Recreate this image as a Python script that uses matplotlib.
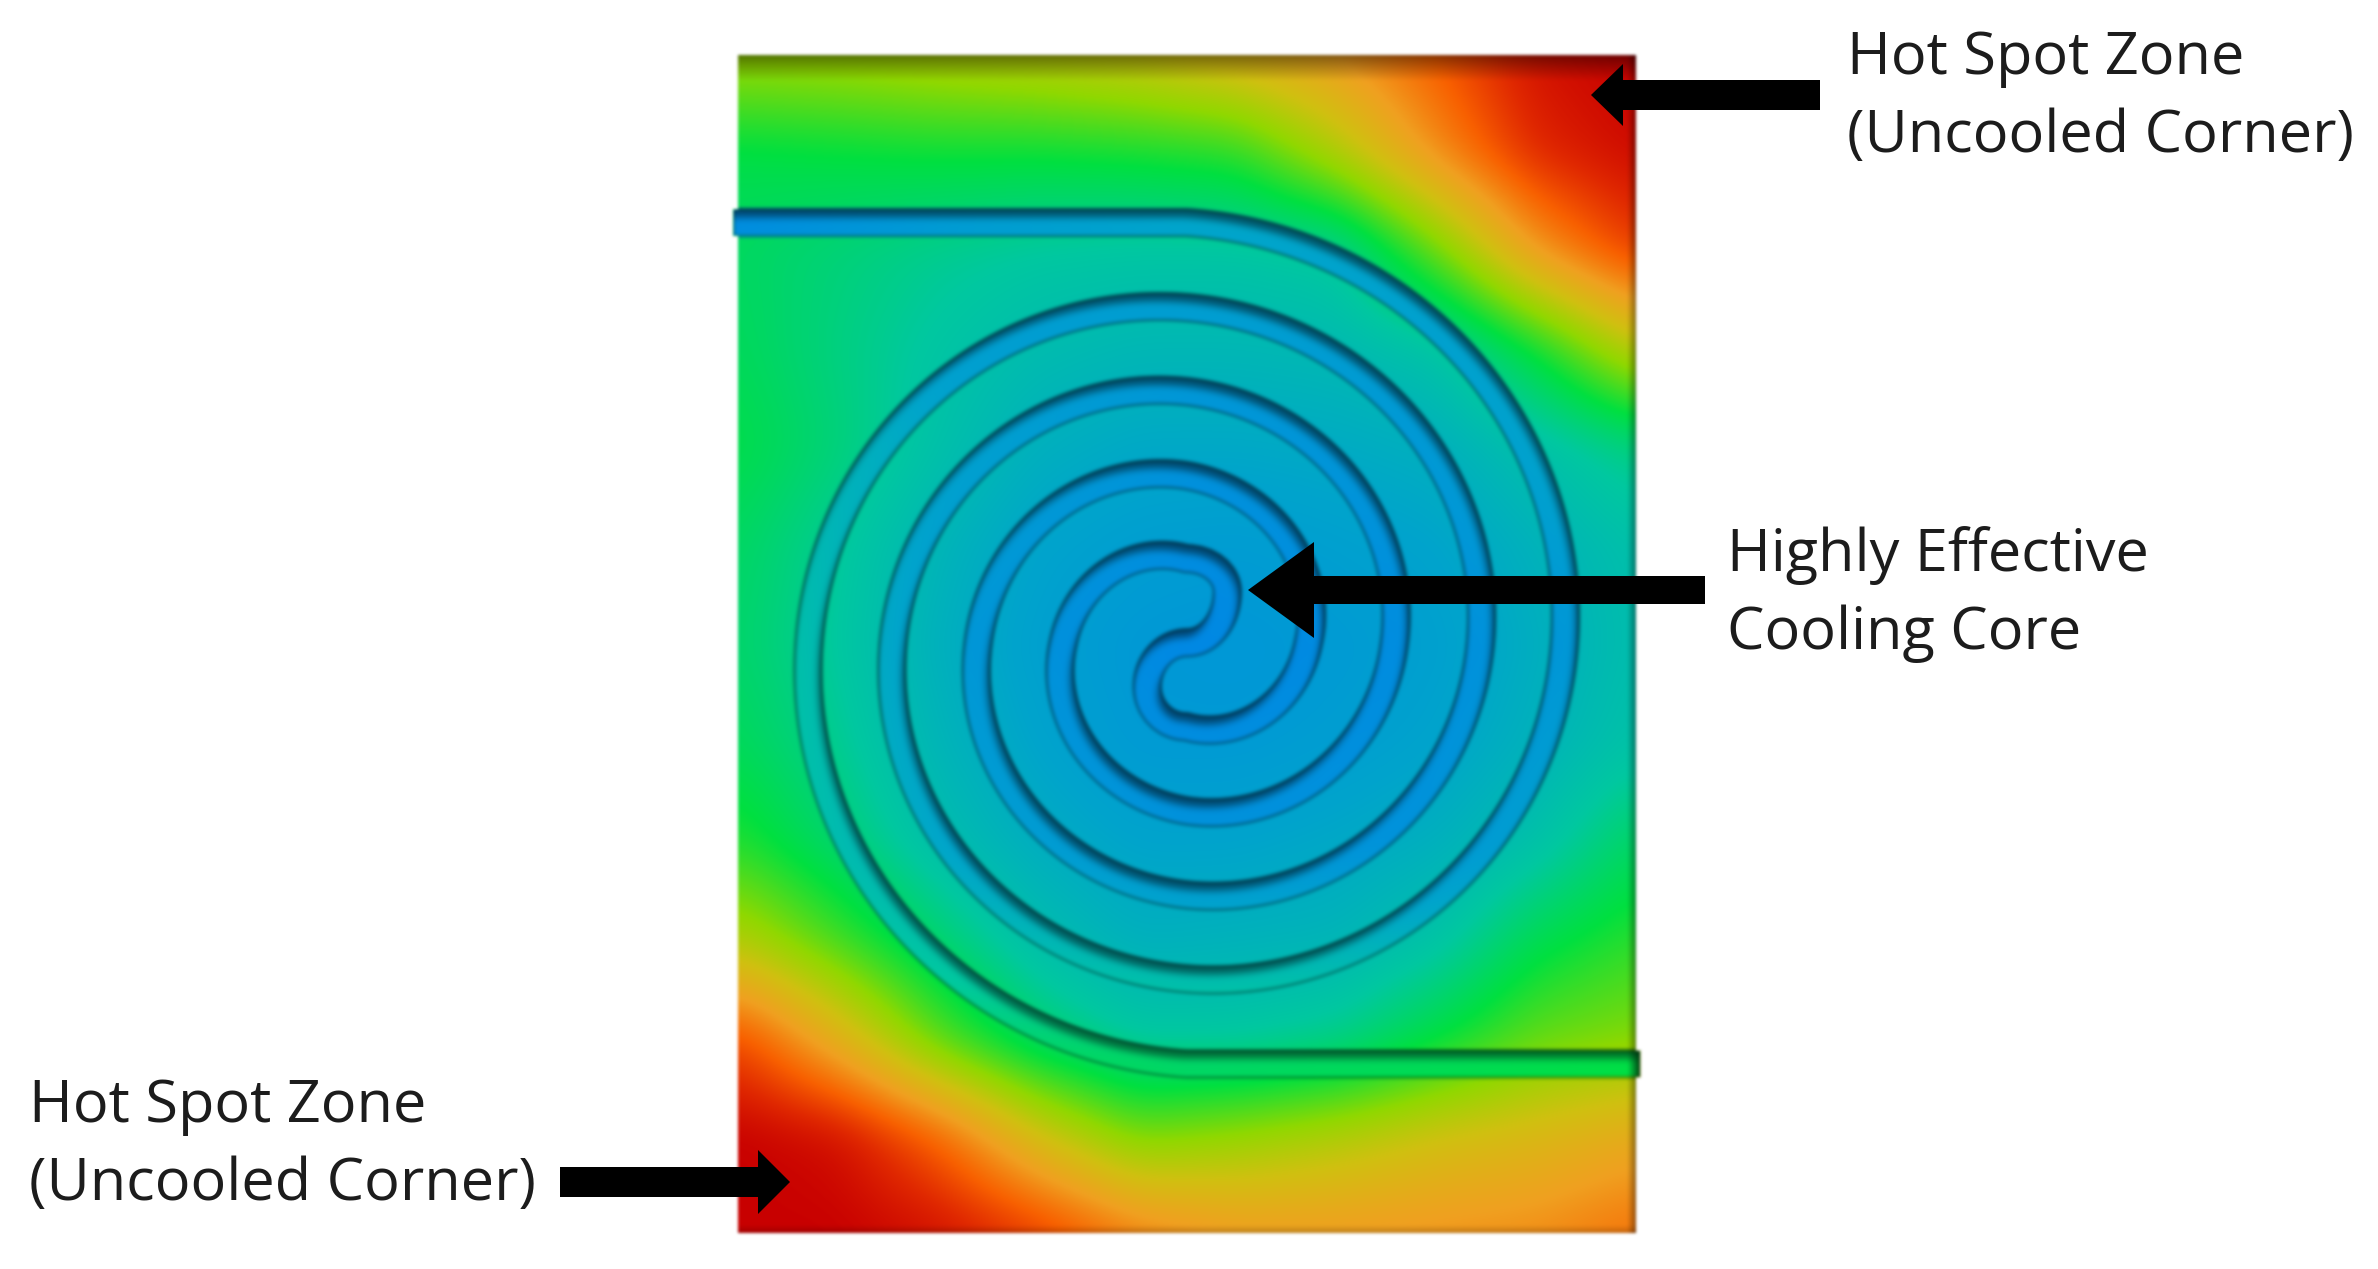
import numpy as np
import matplotlib
matplotlib.use("Agg")
import matplotlib.pyplot as plt
from matplotlib.backends.backend_agg import FigureCanvasAgg
from matplotlib.colors import LinearSegmentedColormap
from matplotlib.figure import Figure
from matplotlib.patches import PathPatch
from matplotlib.path import Path

W, H = 2378, 1269
PANEL = (738, 1636, 55, 1233)

# Temperature, 0 = coldest, 1 = hottest
temp_cols = [738, 838, 939, 1037, 1137, 1238, 1338, 1438, 1536, 1636]
temp_rows = [55, 152, 250, 349, 447, 546, 645, 743, 842, 940, 1039, 1137, 1233]
temp_grid = [
    [.57, .58, .60, .62, .65, .70, .76, .86, .97, 1.0],
    [.41, .42, .43, .43, .44, .46, .60, .78, .93, .98],
    [.38, .35, .32, .30, .29, .29, .31, .52, .76, .90],
    [.39, .34, .29, .25, .23, .23, .24, .28, .43, .62],
    [.41, .35, .27, .20, .17, .17, .18, .20, .27, .34],
    [.38, .31, .22, .15, .12, .11, .13, .15, .21, .27],
    [.37, .30, .20, .13, .09, .08, .10, .13, .19, .26],
    [.39, .32, .22, .15, .10, .10, .12, .15, .21, .28],
    [.45, .36, .26, .19, .15, .15, .17, .20, .27, .38],
    [.60, .48, .36, .26, .20, .21, .22, .28, .40, .46],
    [.88, .70, .50, .37, .30, .30, .33, .42, .51, .54],
    [1.0, .97, .84, .66, .53, .56, .60, .65, .68, .72],
    [1.0, 1.0, .97, .90, .80, .76, .76, .77, .78, .82],
]

# Temperature inside the coolant tube
tube_cols = [738, 963, 1187, 1412, 1636]
tube_rows = [55, 221, 440, 645, 849, 1066, 1233]
tube_grid = [
    [.02, .11, .16, .17, .20],
    [.02, .11, .16, .17, .20],
    [.28, .14, .06, .09, .20],
    [.33, .08, .00, .03, .10],
    [.34, .14, .06, .06, .20],
    [.42, .40, .38, .40, .42],
    [.42, .40, .38, .40, .42],
]

temp_levels = [0, .15, .30, .42, .55, .65, .75, .85, .93, 1]
temp_colors = ["#0088e4", "#00a4cc", "#00c8a0", "#00e040", "#90d800",
               "#d0c010", "#f0a020", "#f86000", "#e02800", "#c80000"]

# Spiral centre and the radius of each arm at every quarter turn
centre_x, centre_y = 1186, 643
arm_in_radius = [420, 378, 336, 293, 251, 208, 168, 123, 84]
arm_out_radius = [84, 122, 167, 208, 252, 294, 335, 377, 421]
# S bend joining the two arms at the middle
bend_x = [1186, 1227, 1187, 1147, 1186]
bend_y = [559, 592, 643, 687, 727]
inlet_x = 733
outlet_x = 1640
tube_px = 27

# Arrows: tip, head base, head half height, shaft half height, shaft end
arrows = [
    (1591, 95, 1623, 31, 15, 1820),
    (1248, 590, 1314, 48, 14, 1705),
    (790, 1182, 758, 32, 15, 560),
]

labels = [
    (1847, 59, "Hot Spot Zone"),
    (1847, 137, "(Uncooled Corner)"),
    (1727, 556, "Highly Effective"),
    (1727, 634, "Cooling Core"),
    (29, 1107, "Hot Spot Zone"),
    (29, 1185, "(Uncooled Corner)"),
]


def box_blur(a, r):
    # three box passes along both axes, close enough to a gaussian
    for axis in (0, 1):
        for _ in range(3):
            pad = [(0, 0), (0, 0)]
            pad[axis] = (r + 1, r)
            c = np.cumsum(np.pad(a, pad, mode="edge"), axis=axis)
            a = (np.take(c, range(2 * r + 1, c.shape[axis]), axis=axis)
                 - np.take(c, range(0, c.shape[axis] - 2 * r - 1), axis=axis)) / (2 * r + 1)
    return a


def upsample(grid, cols, rows, xs, ys):
    grid = np.array(grid)
    by_row = np.array([np.interp(ys, rows, grid[:, j]) for j in range(len(cols))]).T
    return np.array([np.interp(xs, cols, r) for r in by_row])


def arm(radii, start_deg, step_deg):
    # angle measured clockwise from the top of the spiral
    quarters = np.arange(len(radii))
    t = np.linspace(0, len(radii) - 1, 720)
    r = np.interp(t, quarters, radii)
    a = np.radians(start_deg + step_deg * t)
    return list(zip(centre_x + r * np.sin(a), centre_y - r * np.cos(a)))


def tube_path():
    k = 0.5523
    verts = [(inlet_x, centre_y - arm_in_radius[0])] + arm(arm_in_radius, 0, 90)
    codes = [Path.MOVETO] + [Path.LINETO] * 720
    for i in range(len(bend_x) - 1):
        x0, y0, x1, y1 = bend_x[i], bend_y[i], bend_x[i + 1], bend_y[i + 1]
        if i % 2 == 0:
            c1, c2 = (x0 + k * (x1 - x0), y0), (x1, y1 + k * (y0 - y1))
        else:
            c1, c2 = (x0, y0 + k * (y1 - y0)), (x1 + k * (x0 - x1), y1)
        verts += [c1, c2, (x1, y1)]
        codes += [Path.CURVE4] * 3
    verts += arm(arm_out_radius, 180, -90)
    codes += [Path.LINETO] * 720
    verts.append((outlet_x, centre_y + arm_out_radius[-1]))
    codes.append(Path.LINETO)
    return Path(verts, codes)


# Tube mask, drawn by matplotlib on a scratch canvas
x0, x1, y0, y1 = 728, 1648, 45, 1243
nx, ny = x1 - x0, y1 - y0
scratch = Figure(figsize=((nx + 0.5) / 100, (ny + 0.5) / 100), dpi=100)
canvas = FigureCanvasAgg(scratch)
sax = scratch.add_axes([0, 0, 1, 1])
sax.set_xlim(x0, x1)
sax.set_ylim(y1, y0)
sax.axis("off")
sax.add_patch(PathPatch(tube_path(), fill=False, lw=tube_px * 72 / 100, color="k", capstyle="butt"))
canvas.draw()
mask = 1 - np.asarray(canvas.buffer_rgba())[:, :, 0] / 255.0

xs = np.arange(x0, x1) + 0.5
ys = np.arange(y0, y1) + 0.5
temp = box_blur(upsample(temp_grid, temp_cols, temp_rows, xs, ys), 20)
cool = box_blur(upsample(tube_grid, tube_cols, tube_rows, xs, ys), 14)

soft = box_blur(mask, 1)
field = temp * (1 - soft) + cool * soft
cmap = LinearSegmentedColormap.from_list("temp", list(zip(temp_levels, temp_colors)))
rgb = cmap(np.clip(field, 0, 1))[:, :, :3]

# Tube relief: a wide shadow under the upper edge, a thin line on both edges
shifted = np.roll(np.roll(box_blur(mask, 3), 8, axis=0), -3, axis=1)
shadow = np.clip(soft * (1 - shifted), 0, 1)
edge = np.clip(4 * soft * (1 - soft), 0, 1)
shade = 1 - 0.5 * shadow - 0.26 * edge

# Rims of the panel go darker
rim = np.ones_like(shade)
rim *= np.clip(0.55 + 0.45 * (ys - PANEL[2]) / 26, 0.55, 1)[:, None]
rim *= np.clip(0.62 + 0.38 * (PANEL[1] - xs) / 9, 0.62, 1)[None, :]
rim *= np.clip(0.8 + 0.2 * (PANEL[3] - ys) / 8, 0.8, 1)[:, None]
rgb = np.dstack([box_blur(rgb[:, :, c] * shade * rim, 1) for c in range(3)])

inside = ((xs >= PANEL[0]) & (xs <= PANEL[1]))[None, :] & ((ys >= PANEL[2]) & (ys <= PANEL[3]))[:, None]
alpha = np.clip(box_blur(np.maximum(inside.astype(float), mask), 1), 0, 1)
rgba = np.dstack([np.clip(rgb, 0, 1), alpha])

fig = plt.figure(figsize=(W / 100, H / 100), dpi=100)
ax = fig.add_axes([0, 0, 1, 1])
ax.imshow(rgba, extent=(x0, x1, y1, y0), interpolation="nearest", aspect="auto")
ax.set_xlim(0, W)
ax.set_ylim(H, 0)
ax.axis("off")

for tip_x, tip_y, base_x, head_h, shaft_h, end_x in arrows:
    ax.fill([tip_x, base_x, base_x, end_x, end_x, base_x, base_x],
            [tip_y, tip_y - head_h, tip_y - shaft_h, tip_y - shaft_h,
             tip_y + shaft_h, tip_y + shaft_h, tip_y + head_h], color="black", lw=0, zorder=3)

for tx, ty, s in labels:
    ax.text(tx, ty, s, fontsize=42.8, family="Open Sans", color="#1c1c1c", va="center", ha="left", zorder=4)

fig.savefig("out.png", dpi=100)
